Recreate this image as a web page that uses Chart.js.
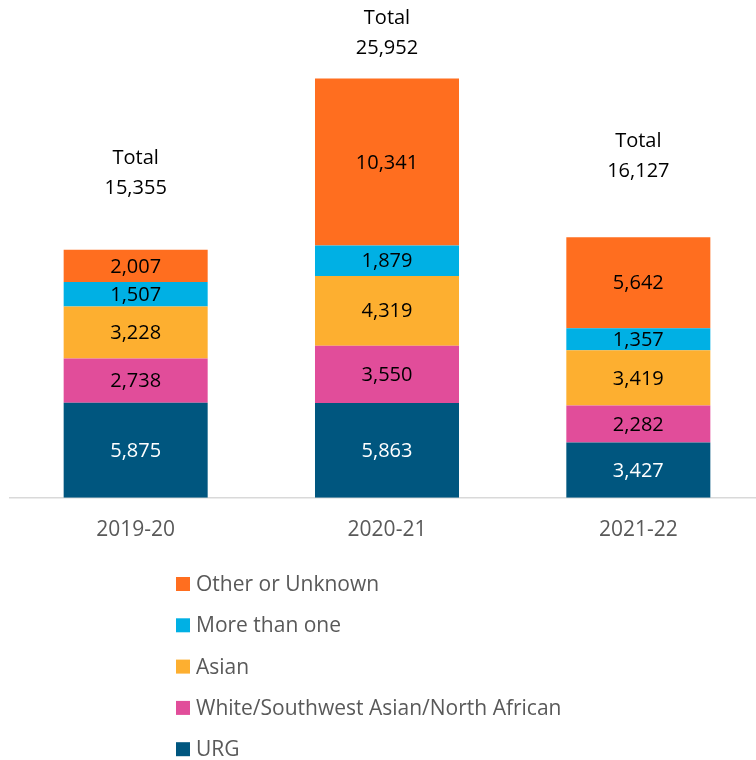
<!DOCTYPE html>
<html>
<head>
<meta charset="utf-8">
<script src="https://cdn.jsdelivr.net/npm/chart.js@4.4.1/dist/chart.umd.min.js"></script>
<style>
  html, body { margin: 0; padding: 0; background: #fff; }
  #wrap { width: 756px; height: 760px; overflow: hidden; position: relative; }
</style>
</head>
<body>
<div id="wrap"><canvas id="chart" width="768" height="760"></canvas></div>
<script>
// Data
const years = ["2019-20", "2020-21", "2021-22"];
const urg = [5875, 5863, 3427];
const whiteSwana = [2738, 3550, 2282];
const asian = [3228, 4319, 3419];
const moreThanOne = [1507, 1879, 1357];
const otherUnknown = [2007, 10341, 5642];
const totals = [15355, 25952, 16127];

// gap (px) between bar top and the "Total" value line, as laid out in the original
const totalGap = [61, 30, 66];

const FONT = "'Open Sans', sans-serif";

const series = [
  { label: "URG", data: urg, color: "#00567F", text: "#ffffff" },
  { label: "White/Southwest Asian/North African", data: whiteSwana, color: "#E14D9A", text: "#000000" },
  { label: "Asian", data: asian, color: "#FDAF30", text: "#000000" },
  { label: "More than one", data: moreThanOne, color: "#00B0E4", text: "#000000" },
  { label: "Other or Unknown", data: otherUnknown, color: "#FF6E1F", text: "#000000" },
];

// labels inside segments + totals above bars
const labelPlugin = {
  id: "labels",
  afterDatasetsDraw(chart) {
    const ctx = chart.ctx;
    ctx.save();
    ctx.textAlign = "center";
    ctx.textBaseline = "middle";
    ctx.font = "20px " + FONT;
    chart.data.datasets.forEach((ds, i) => {
      const meta = chart.getDatasetMeta(i);
      meta.data.forEach((bar, j) => {
        const mid = (bar.y + bar.base) / 2;
        ctx.fillStyle = series[i].text;
        ctx.fillText(ds.data[j].toLocaleString("en-US"), bar.x, mid + 1);
      });
    });
    const top = chart.getDatasetMeta(chart.data.datasets.length - 1);
    top.data.forEach((bar, j) => {
      ctx.fillStyle = "#000000";
      const y = bar.y - totalGap[j];
      ctx.fillText(totals[j].toLocaleString("en-US"), bar.x, y);
      ctx.fillText("Total", bar.x, y - 30);
    });
    ctx.restore();
  },
};

// vertical legend, reversed order
const legendPlugin = {
  id: "vlegend",
  afterDraw(chart) {
    const ctx = chart.ctx;
    ctx.save();
    ctx.font = "21px " + FONT;
    ctx.textBaseline = "middle";
    ctx.textAlign = "left";
    const items = series.slice().reverse();
    items.forEach((s, k) => {
      const cy = 584 + k * 41.3;
      ctx.fillStyle = s.color;
      ctx.fillRect(176, cy - 7, 14, 14);
      ctx.fillStyle = "#595959";
      ctx.fillText(s.label, 196, cy + 1);
    });
    ctx.restore();
  },
};

new Chart(document.getElementById("chart"), {
  type: "bar",
  data: {
    labels: years,
    datasets: series.map((s) => ({
      label: s.label,
      data: s.data,
      backgroundColor: s.color,
      borderWidth: 0,
      categoryPercentage: 1,
      barPercentage: 0.573,
    })),
  },
  options: {
    responsive: false,
    animation: false,
    layout: { padding: { left: 10, right: 4, top: 13, bottom: 197 } },
    plugins: { legend: { display: false }, tooltip: { enabled: false } },
    scales: {
      x: {
        stacked: true,
        grid: { display: false, drawTicks: false },
        border: { display: true, color: "#D9D9D9", width: 1.5 },
        ticks: { color: "#595959", font: { family: FONT, size: 21 }, padding: 20 },
      },
      y: {
        stacked: true,
        display: false,
        min: 0,
        max: 30000,
      },
    },
  },
  plugins: [labelPlugin, legendPlugin],
});
</script>
</body>
</html>
